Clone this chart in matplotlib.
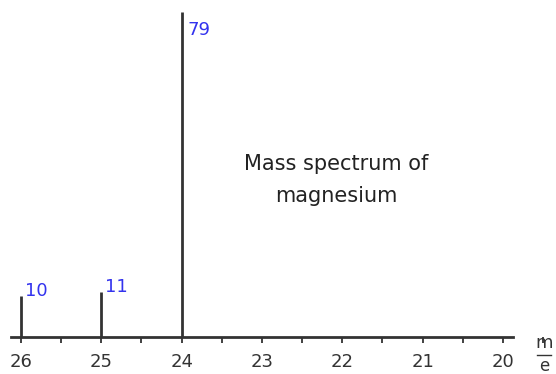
import matplotlib
matplotlib.use("Agg")
import matplotlib.pyplot as plt
from matplotlib.ticker import FixedLocator, MultipleLocator

# Mass spectrum of magnesium: m/e and relative abundance
mass = [26, 25, 24]
abundance = [10, 11, 79]
tick_values = [26, 25, 24, 23, 22, 21, 20]

GREY = "#333333"
BLUE = "#3333ee"

fig = plt.figure(figsize=(5.56, 3.74), dpi=100)
ax = fig.add_axes([0, 37 / 374, 1, 337 / 374])
ax.set_xlim(26.261, 19.34)
ax.set_ylim(0, 81.9)

for s in ("top", "right", "left"):
    ax.spines[s].set_visible(False)
ax.spines["bottom"].set_bounds(26.124, 19.876)
ax.spines["bottom"].set_color(GREY)
ax.spines["bottom"].set_linewidth(2)
ax.set_yticks([])

ax.xaxis.set_major_locator(FixedLocator(tick_values))
ax.xaxis.set_minor_locator(MultipleLocator(0.5))
ax.tick_params(axis="x", which="both", direction="out", length=4.5, width=1.3,
               color=GREY, labelcolor=GREY, labelsize=13, pad=7)
ax.set_xticklabels([str(v) for v in tick_values])

ax.vlines(mass, 0, abundance, color=GREY, linewidth=2)
for m, a in zip(mass, abundance):
    if a > 50:
        ax.text(m - 0.07, a - 2.2, str(a), color=BLUE, fontsize=13,
                ha="left", va="top")
    else:
        ax.text(m - 0.05, a - 1.0, str(a), color=BLUE, fontsize=13,
                ha="left", va="bottom")

ax.text(22.07, 38.2, "Mass spectrum of\nmagnesium", ha="center", va="center",
        fontsize=15, color="#222222", linespacing=1.75)

# m/e axis label
fig.text(544 / 556, 1 - 343 / 374, "m", ha="center", va="center", fontsize=13, color=GREY)
fig.text(544 / 556, 1 - 366 / 374, "e", ha="center", va="center", fontsize=12, color=GREY)
fig.add_artist(plt.Line2D([537 / 556, 551 / 556], [1 - 355 / 374, 1 - 355 / 374],
                          color=GREY, linewidth=1))

fig.savefig("out.png", dpi=100)
